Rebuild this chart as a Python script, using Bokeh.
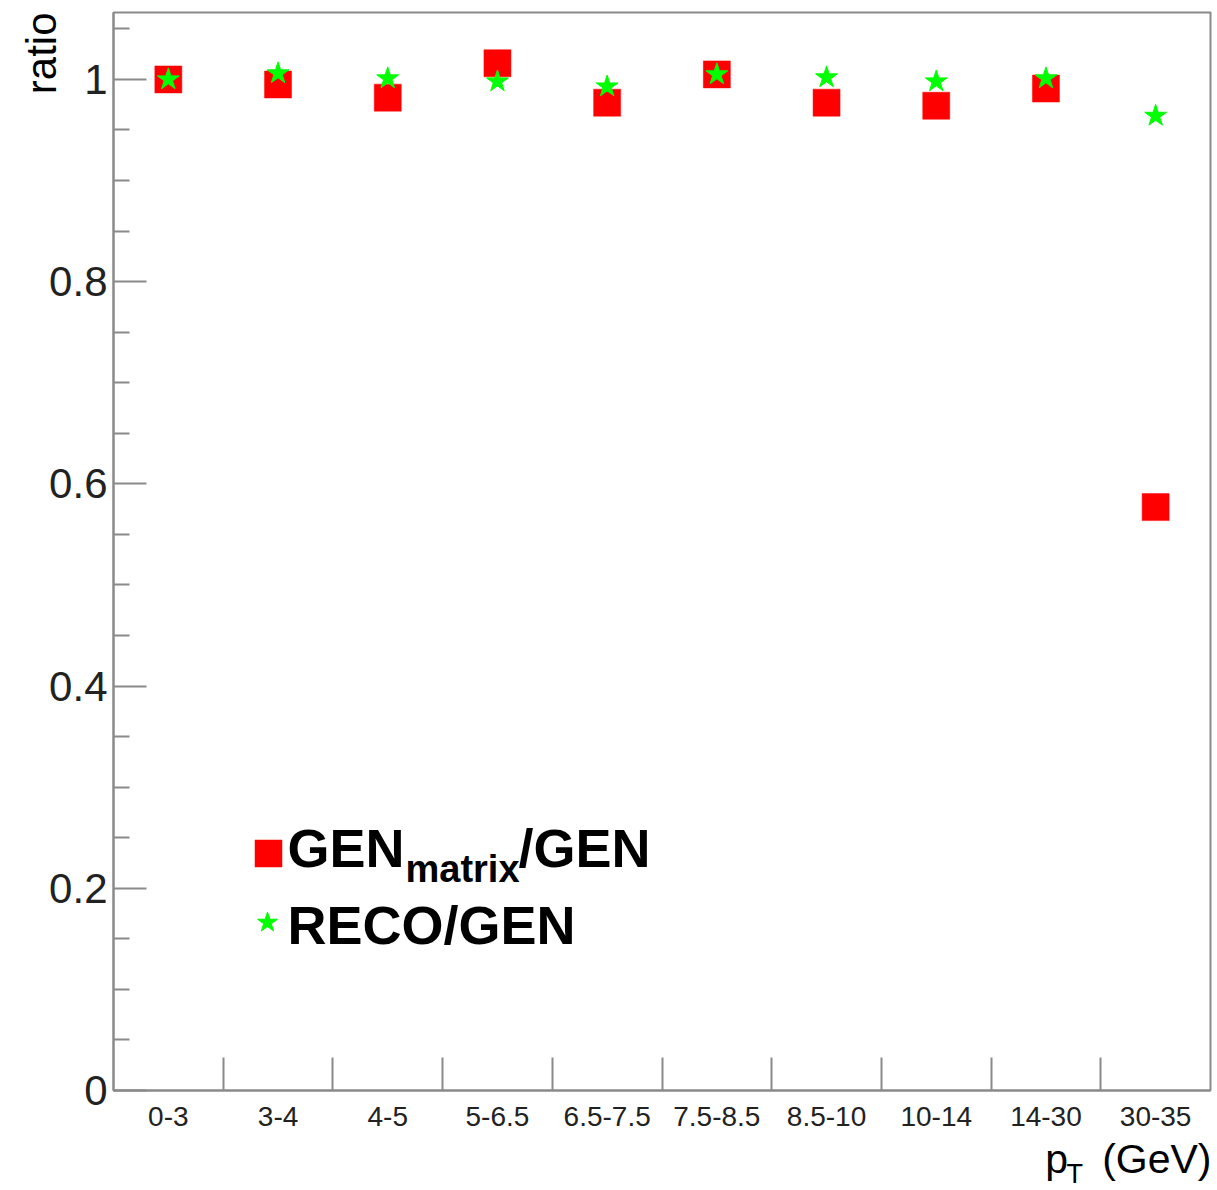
import math
from bokeh.plotting import figure
from bokeh.models import Range1d, FixedTicker, Label, Title, ColumnDataSource
from bokeh.embed import file_html
from bokeh.resources import INLINE

# ---------------- data ----------------
categories = ["0-3", "3-4", "4-5", "5-6.5", "6.5-7.5", "7.5-8.5", "8.5-10", "10-14", "14-30", "30-35"]
gen_matrix_over_gen = [1.000, 0.995, 0.982, 1.016, 0.977, 1.005, 0.977, 0.974, 0.991, 0.577]
reco_over_gen = [1.000, 1.006, 1.001, 0.998, 0.993, 1.005, 1.002, 0.998, 1.001, 0.964]
y_tick_values = [0.0, 0.2, 0.4, 0.6, 0.8, 1.0]
y_tick_labels = ["0", "0.2", "0.4", "0.6", "0.8", "1"]

# ---------------- layout constants ----------------
FONT = "Liberation Sans"
GRAY = "#8a8a8a"
W, H = 1214, 1190
# frame in canvas pixels
FL, FR, FT, FB = 113, 1210, 12, 1090
X0, X1 = 0.0, float(len(categories))
Y0, Y1 = 0.0, 1.0662

def px_x(px):
    return X0 + (px - FL) / (FR - FL) * (X1 - X0)

def px_y(py):
    return Y0 + (FB - py) / (FB - FT) * (Y1 - Y0)

p = figure(width=W, height=H, output_backend="svg", toolbar_location=None,
           x_range=Range1d(X0, X1), y_range=Range1d(Y0, Y1),
           min_border_left=FL, min_border_right=W - FR,
           min_border_top=FT, min_border_bottom=H - FB)
p.xgrid.visible = False
p.ygrid.visible = False
p.background_fill_color = "white"
p.border_fill_color = "white"
p.outline_line_color = GRAY
p.outline_line_width = 2

# x axis: bin boundaries as ticks, labels at bin centres
centers = [i + 0.5 for i in range(len(categories))]
bounds = [float(i) for i in range(1, len(categories))]
p.xaxis.ticker = FixedTicker(ticks=centers, minor_ticks=bounds)
p.xaxis.major_label_overrides = {c: lab for c, lab in zip(centers, categories)}
p.xaxis.major_tick_line_color = None
p.xaxis.minor_tick_in = 33
p.xaxis.minor_tick_out = 0
p.xaxis.minor_tick_line_color = GRAY
p.xaxis.minor_tick_line_width = 2
p.xaxis.axis_line_color = GRAY
p.xaxis.axis_line_width = 2
p.xaxis.major_label_text_font = FONT
p.xaxis.major_label_text_font_size = "28px"
p.xaxis.major_label_text_color = "#222222"
p.xaxis.major_label_standoff = 10

# y axis
minor_y = [round(0.05 * k, 2) for k in range(0, 22) if k % 4 != 0]
p.yaxis.ticker = FixedTicker(ticks=y_tick_values, minor_ticks=minor_y)
p.yaxis.major_label_overrides = {v: lab for v, lab in zip(y_tick_values, y_tick_labels)}
p.yaxis.major_tick_in = 33
p.yaxis.major_tick_out = 0
p.yaxis.minor_tick_in = 16
p.yaxis.minor_tick_out = 0
p.yaxis.major_tick_line_color = GRAY
p.yaxis.minor_tick_line_color = GRAY
p.yaxis.major_tick_line_width = 2
p.yaxis.minor_tick_line_width = 2
p.yaxis.axis_line_color = GRAY
p.yaxis.axis_line_width = 2
p.yaxis.major_label_text_font = FONT
p.yaxis.major_label_text_font_size = "42px"
p.yaxis.major_label_text_color = "#222222"
p.yaxis.major_label_standoff = 6

# ---------------- data marks ----------------
src = ColumnDataSource(dict(x=centers, gm=gen_matrix_over_gen, rg=reco_over_gen))
p.scatter("x", "gm", source=src, marker="square", size=27,
          fill_color="#ff0000", line_color="#ff0000", line_width=0.5)
p.scatter("x", "rg", source=src, marker="star", size=23,
          fill_color="#00ff00", line_color="#00ff00", line_width=1)

# ---------------- legend (drawn by hand for the subscript) ----------------
p.scatter([px_x(268)], [px_y(853)], marker="square", size=27,
          fill_color="#ff0000", line_color="#ff0000", line_width=0.5)
p.scatter([px_x(267)], [px_y(922)], marker="star", size=21,
          fill_color="#00ff00", line_color="#00ff00", line_width=1)

def make_text(txt, px, baseline_py, size, bold=False, align="left"):
    # anchor is the vertical middle of the text box
    mid = baseline_py - 0.35 * size
    return Label(x=px_x(px), y=px_y(mid), text=txt, text_font=FONT,
                 text_font_size=f"{size}px",
                 text_font_style="bold" if bold else "normal",
                 text_align=align, text_baseline="middle",
                 text_color="black")

p.add_layout(make_text("GEN", 287, 866, 54, bold=True))
p.add_layout(make_text("matrix", 405, 882, 38, bold=True))
p.add_layout(make_text("/GEN", 518, 866, 54, bold=True))
p.add_layout(make_text("RECO/GEN", 287, 943, 54, bold=True))

# ---------------- axis titles ----------------
# y title at the top of the left side
p.add_layout(Title(text="ratio", align="right", vertical_align="middle", offset=0,
                   standoff=-38, text_font=FONT, text_font_size="42px",
                   text_font_style="normal", text_color="black"), "left")
# x title at the right end of the bottom side (side panels are not clipped to the frame)
p.add_layout(make_text("p\u00a0\u00a0\u00a0(GeV)", 1211, 1173, 41, align="right"), "below")
p.add_layout(make_text("T", 1066, 1183, 27), "left")

open("out.html", "w").write(file_html(p, INLINE))
